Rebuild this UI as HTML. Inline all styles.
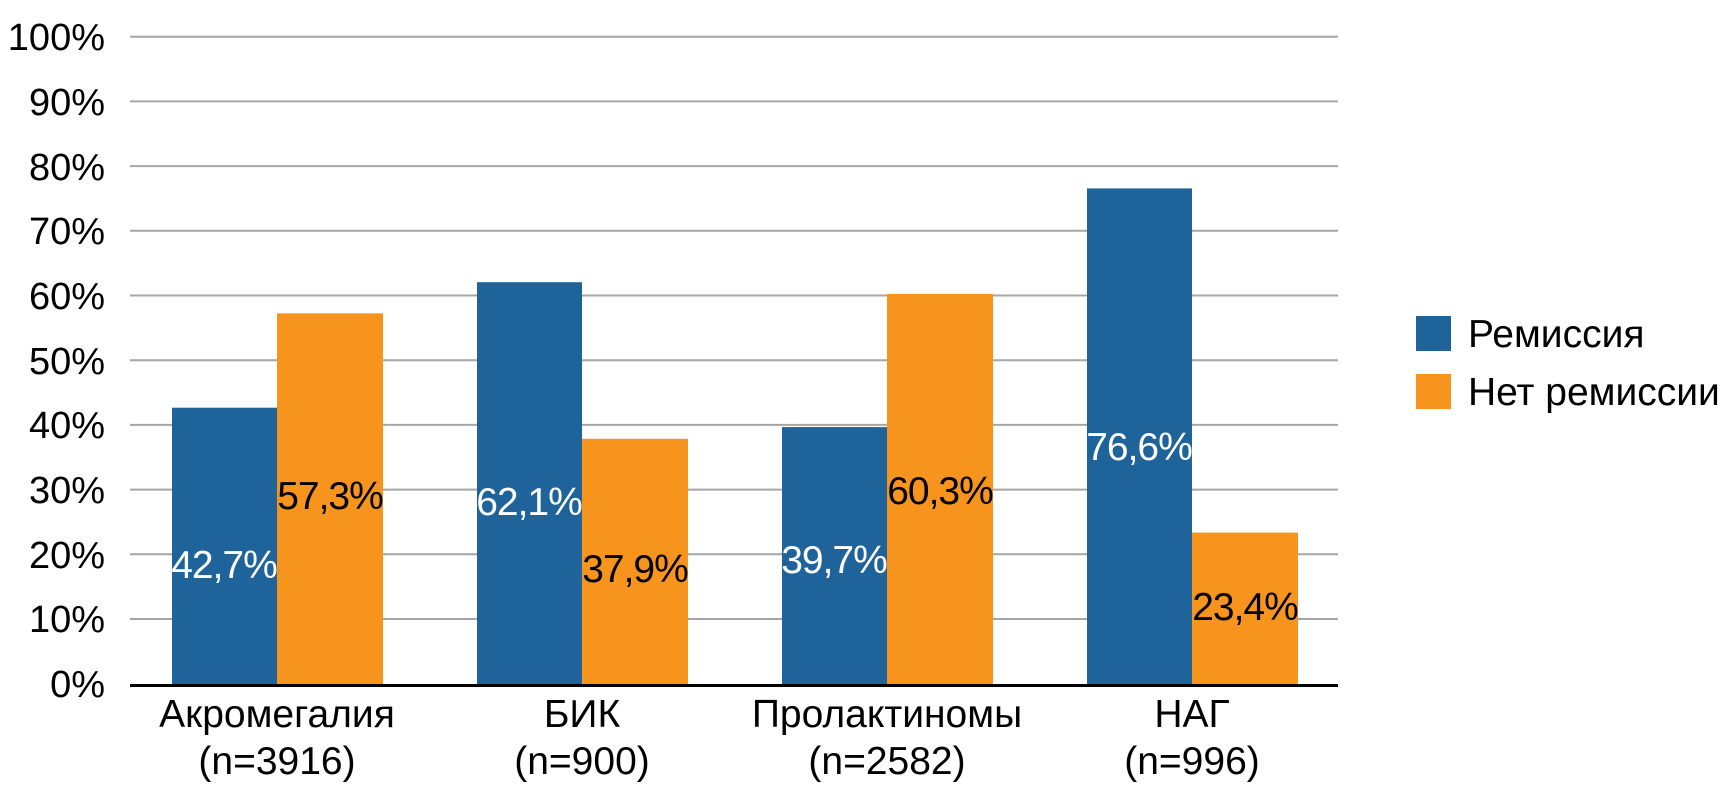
<!DOCTYPE html>
<html><head><meta charset="utf-8"><style>
html,body{margin:0;padding:0;background:#fff;}
svg{display:block;font-family:"Liberation Sans",sans-serif;}
</style></head><body>
<svg width="1734" height="789" viewBox="0 0 1734 789" xmlns="http://www.w3.org/2000/svg">
<g stroke="#a6a6a6" stroke-width="2">
<line x1="130" x2="1338" y1="36.7" y2="36.7"/>
<line x1="130" x2="1338" y1="101.4" y2="101.4"/>
<line x1="130" x2="1338" y1="166.1" y2="166.1"/>
<line x1="130" x2="1338" y1="230.8" y2="230.8"/>
<line x1="130" x2="1338" y1="295.5" y2="295.5"/>
<line x1="130" x2="1338" y1="360.2" y2="360.2"/>
<line x1="130" x2="1338" y1="424.9" y2="424.9"/>
<line x1="130" x2="1338" y1="489.6" y2="489.6"/>
<line x1="130" x2="1338" y1="554.3" y2="554.3"/>
<line x1="130" x2="1338" y1="619" y2="619"/>
</g>
<g font-size="38" text-anchor="end" fill="#000">
<text x="105" y="50">100%</text>
<text x="105" y="115">90%</text>
<text x="105" y="180">80%</text>
<text x="105" y="244">70%</text>
<text x="105" y="309">60%</text>
<text x="105" y="374">50%</text>
<text x="105" y="438">40%</text>
<text x="105" y="503">30%</text>
<text x="105" y="568">20%</text>
<text x="105" y="632">10%</text>
<text x="105" y="697">0%</text>
</g>
<g>
<rect x="172" y="407.7" width="105" height="276.3" fill="#1f639b"/>
<rect x="277" y="313.3" width="106" height="370.7" fill="#f7941d"/>
<rect x="477" y="282.2" width="105" height="401.8" fill="#1f639b"/>
<rect x="582" y="438.8" width="106" height="245.2" fill="#f7941d"/>
<rect x="782" y="427.1" width="105" height="256.9" fill="#1f639b"/>
<rect x="887" y="293.9" width="106" height="390.1" fill="#f7941d"/>
<rect x="1087" y="188.4" width="105" height="495.6" fill="#1f639b"/>
<rect x="1192" y="532.6" width="106" height="151.4" fill="#f7941d"/>
</g>
<line x1="130" x2="1338" y1="685.5" y2="685.5" stroke="#000" stroke-width="3"/>
<g font-size="39" text-anchor="middle" letter-spacing="-1">
<text x="224" y="578" fill="#fff">42,7%</text>
<text x="330" y="509" fill="#000">57,3%</text>
<text x="529" y="515" fill="#fff">62,1%</text>
<text x="635" y="582" fill="#000">37,9%</text>
<text x="834" y="573" fill="#fff">39,7%</text>
<text x="940" y="504" fill="#000">60,3%</text>
<text x="1139" y="460" fill="#fff">76,6%</text>
<text x="1245" y="620" fill="#000">23,4%</text>
</g>
<g font-size="39" text-anchor="middle" fill="#000">
<text x="277" y="727">Акромегалия</text>
<text x="277" y="774">(n=3916)</text>
<text x="582" y="727">БИК</text>
<text x="582" y="774">(n=900)</text>
<text x="887" y="727">Пролактиномы</text>
<text x="887" y="774">(n=2582)</text>
<text x="1192" y="727">НАГ</text>
<text x="1192" y="774">(n=996)</text>
</g>
<rect x="1416" y="316" width="35" height="35" fill="#1f639b"/>
<rect x="1416" y="374" width="35" height="35" fill="#f7941d"/>
<g font-size="39" fill="#000">
<text x="1468" y="347">Ремиссия</text>
<text x="1468" y="405">Нет ремиссии</text>
</g>
</svg>
</body></html>
